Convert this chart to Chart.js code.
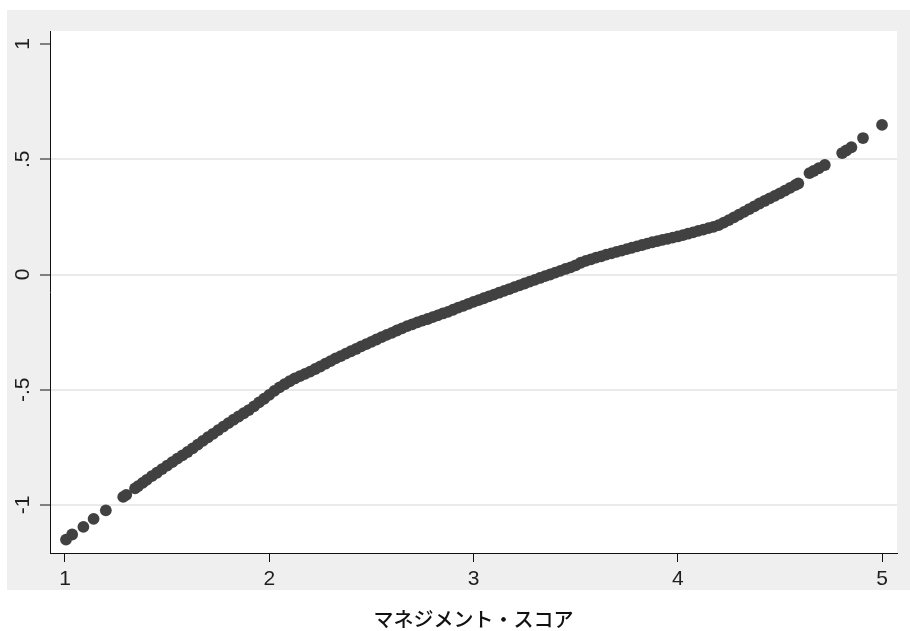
<!DOCTYPE html>
<html lang="ja">
<head>
<meta charset="utf-8">
<title>マネジメント・スコア</title>
<script src="https://cdn.jsdelivr.net/npm/chart.js@4/dist/chart.umd.min.js"></script>
<style>
  html, body { margin: 0; padding: 0; background: #ffffff; }
  #wrap { width: 910px; height: 631px; }
</style>
</head>
<body>
<div id="wrap"><canvas id="scoreChart" width="910" height="631"></canvas></div>
<script>
// Management score (x) vs. fitted value (y)
const mgmtScore = [
  1.005, 1.035, 1.090, 1.140, 1.200,
  1.285, 1.300, 1.343, 1.358, 1.380, 1.400, 1.425, 1.450, 1.475, 1.500,
  1.525, 1.550, 1.575, 1.600, 1.625, 1.650, 1.675, 1.700, 1.725, 1.750,
  1.775, 1.800, 1.825, 1.850, 1.875, 1.900, 1.925, 1.950, 1.975, 2.000,
  2.025, 2.050, 2.075, 2.100, 2.125, 2.150, 2.175, 2.200, 2.225, 2.250,
  2.275, 2.300, 2.325, 2.350, 2.375, 2.400, 2.425, 2.450, 2.475, 2.500,
  2.525, 2.550, 2.575, 2.600, 2.625, 2.650, 2.675, 2.700, 2.725, 2.750,
  2.775, 2.800, 2.825, 2.850, 2.875, 2.900, 2.925, 2.950, 2.975, 3.000,
  3.025, 3.050, 3.075, 3.100, 3.125, 3.150, 3.175, 3.200, 3.225, 3.250,
  3.275, 3.300, 3.325, 3.350, 3.375, 3.400, 3.425, 3.450, 3.475, 3.500,
  3.525, 3.550, 3.575, 3.600, 3.625, 3.650, 3.675, 3.700, 3.725, 3.750,
  3.775, 3.800, 3.825, 3.850, 3.875, 3.900, 3.925, 3.950, 3.975, 4.000,
  4.025, 4.050, 4.075, 4.100, 4.125, 4.150, 4.175, 4.200, 4.225, 4.250,
  4.275, 4.300, 4.325, 4.350, 4.375, 4.400, 4.425, 4.450, 4.475, 4.500,
  4.525, 4.550, 4.575, 4.590,
  4.645, 4.665, 4.690, 4.720, 4.805, 4.825, 4.850, 4.907, 5.000
];
const fitted = [
  -1.150, -1.128, -1.095, -1.060, -1.023,
  -0.965, -0.956, -0.928, -0.918, -0.904, -0.891, -0.875, -0.860, -0.844, -0.829,
  -0.814, -0.799, -0.785, -0.770, -0.754, -0.738, -0.722, -0.706, -0.691, -0.675,
  -0.660, -0.645, -0.630, -0.616, -0.602, -0.588, -0.572, -0.555, -0.539, -0.522,
  -0.505, -0.490, -0.476, -0.463, -0.451, -0.441, -0.431, -0.421, -0.410, -0.399,
  -0.387, -0.376, -0.364, -0.354, -0.343, -0.333, -0.323, -0.312, -0.302, -0.292,
  -0.282, -0.272, -0.262, -0.253, -0.243, -0.234, -0.224, -0.216, -0.208, -0.200,
  -0.193, -0.185, -0.177, -0.169, -0.162, -0.153, -0.144, -0.136, -0.127, -0.119,
  -0.111, -0.103, -0.095, -0.087, -0.079, -0.071, -0.063, -0.055, -0.047, -0.039,
  -0.031, -0.023, -0.015, -0.007, 0.000, 0.008, 0.016, 0.024, 0.031, 0.040,
  0.051, 0.059, 0.066, 0.073, 0.079, 0.086, 0.092, 0.098, 0.104, 0.110,
  0.116, 0.122, 0.128, 0.134, 0.140, 0.145, 0.150, 0.155, 0.160, 0.165,
  0.171, 0.177, 0.183, 0.189, 0.195, 0.201, 0.207, 0.214, 0.225, 0.236,
  0.248, 0.260, 0.272, 0.284, 0.296, 0.308, 0.319, 0.330, 0.341, 0.352,
  0.364, 0.376, 0.388, 0.395,
  0.440, 0.449, 0.461, 0.475, 0.527, 0.538, 0.552, 0.592, 0.649
];
const xTicks = [1, 2, 3, 4, 5];
const yTicks = [-1, -0.5, 0, 0.5, 1];
const xTitle = 'マネジメント・スコア';

const textColor = '#1e1e1e';
const panelGray = '#efefef';

// Stata style: ".5" instead of "0.5"
function stataLabel(v) {
  if (v === 0) return '0';
  const s = String(Math.abs(v)).replace(/^0\./, '.');
  return (v < 0 ? '-' : '') + s;
}

// Gray outer panel with white plot region
const panelPlugin = {
  id: 'panel',
  beforeDraw(chart) {
    const { ctx, chartArea: a } = chart;
    ctx.save();
    ctx.fillStyle = panelGray;
    ctx.fillRect(7, 10, 903, 580);
    ctx.fillStyle = '#ffffff';
    ctx.fillRect(a.left, a.top, a.right - a.left, a.bottom - a.top);
    ctx.restore();
  }
};

// Vertical (rotated) y tick labels
const yLabelPlugin = {
  id: 'yLabels',
  afterDraw(chart) {
    const { ctx } = chart;
    const y = chart.scales.y;
    ctx.save();
    ctx.fillStyle = textColor;
    ctx.font = '21px "Liberation Sans", Arial, sans-serif';
    ctx.textAlign = 'center';
    ctx.textBaseline = 'middle';
    y.ticks.forEach(t => {
      const py = y.getPixelForValue(t.value);
      ctx.save();
      ctx.translate(23, py);
      ctx.rotate(-Math.PI / 2);
      ctx.fillText(stataLabel(t.value), 0, 0);
      ctx.restore();
    });
    ctx.restore();
  }
};

const points = mgmtScore.map((x, i) => ({ x: x, y: fitted[i] }));

new Chart(document.getElementById('scoreChart'), {
  type: 'scatter',
  data: {
    datasets: [{
      data: points,
      backgroundColor: '#414141',
      borderWidth: 0,
      pointRadius: 5.9,
      pointHoverRadius: 5.9
    }]
  },
  options: {
    responsive: false,
    animation: false,
    events: [],
    layout: { padding: { left: 7, right: 13, top: 31, bottom: 0 } },
    plugins: {
      legend: { display: false },
      tooltip: { enabled: false }
    },
    scales: {
      x: {
        type: 'linear',
        min: 0.9266,
        max: 5.0734,
        afterBuildTicks: scale => { scale.ticks = xTicks.map(v => ({ value: v })); },
        afterFit: scale => { scale.height = 78; },
        border: { display: true, color: '#111111', width: 1 },
        grid: { drawOnChartArea: false, drawTicks: true, tickLength: 9, tickColor: '#111111', tickWidth: 1 },
        ticks: {
          color: textColor,
          padding: 5,
          maxRotation: 0,
          font: { family: '"Liberation Sans", Arial, sans-serif', size: 21 }
        },
        title: {
          display: true,
          text: xTitle,
          color: '#111111',
          padding: { top: 0, bottom: 0 },
          font: { family: '"Noto Sans CJK JP", sans-serif', size: 20, weight: '500', lineHeight: 1.2 }
        }
      },
      y: {
        type: 'linear',
        min: -1.2082,
        max: 1.0564,
        afterBuildTicks: scale => { scale.ticks = yTicks.map(v => ({ value: v })); },
        afterFit: scale => { scale.width = 43; },
        border: { display: true, color: '#111111', width: 1 },
        grid: {
          color: ctx => (ctx.tick && ctx.tick.value === 1 ? 'rgba(0,0,0,0)' : '#eaeaea'),
          lineWidth: 2,
          drawTicks: true,
          tickLength: 10,
          tickColor: '#111111',
          tickWidth: 1
        },
        ticks: { display: false }
      }
    }
  },
  plugins: [panelPlugin, yLabelPlugin]
});
</script>
</body>
</html>
